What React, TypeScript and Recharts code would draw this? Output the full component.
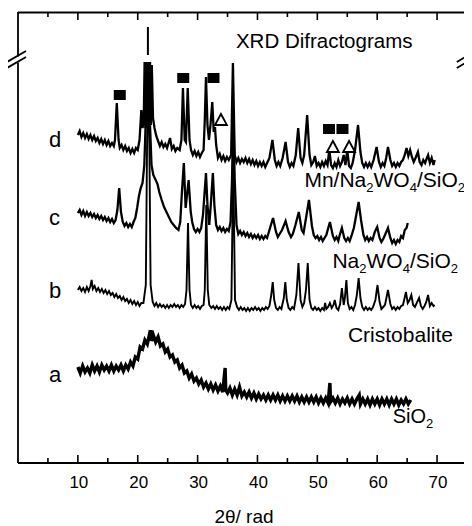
import { Line, LineChart, ReferenceDot, ReferenceLine, XAxis, YAxis } from 'recharts';

const FONT = '"Liberation Sans", Arial, Helvetica, sans-serif';

// 2θ tick positions (labels only on multiples of 10)
const X_TICKS = [5, 10, 15, 20, 25, 30, 35, 40, 45, 50, 55, 60, 65, 70];

// intensity values are in arbitrary units (0 = bottom of frame)
const TRACE_D: [number, number][] = [
    [10.0, 328], [10.3, 332], [10.6, 326], [10.9, 330], [11.2, 325], [11.5, 329], [11.8, 324], [12.1, 328], [12.4, 323],
    [12.7, 327], [13.0, 322], [13.3, 325], [13.6, 320], [13.9, 324], [14.2, 319], [14.5, 323], [14.8, 318], [15.1, 322],
    [15.4, 317], [15.7, 320], [16.0, 317], [16.2, 323], [16.5, 360], [16.8, 323], [17.0, 315], [17.3, 318], [17.6, 313],
    [17.9, 317], [18.2, 312], [18.5, 315], [18.8, 310], [19.1, 314], [19.4, 310], [19.7, 315], [20.0, 313], [20.3, 323],
    [20.6, 353], [20.8, 335], [21.0, 341], [21.15, 401], [21.3, 335], [21.45, 401], [21.6, 335], [21.75, 401], [21.9, 335],
    [22.05, 401], [22.2, 338], [22.35, 398], [22.55, 345], [22.8, 335], [23.1, 327], [23.4, 322], [23.7, 317], [24.0, 321],
    [24.3, 316], [24.6, 319], [24.9, 315], [25.4, 325], [25.7, 314], [26.0, 317], [26.3, 312], [26.6, 315], [27.0, 313],
    [27.3, 323], [27.55, 375], [27.85, 323], [28.05, 321], [28.35, 375], [28.65, 323], [28.9, 313], [29.2, 308], [29.5, 312],
    [29.8, 307], [30.1, 311], [30.4, 306], [30.7, 310], [31.0, 313], [31.2, 343], [31.4, 386], [31.65, 338], [31.9, 323],
    [32.15, 338], [32.45, 361], [32.7, 331], [32.9, 336], [33.1, 318], [33.4, 305], [33.7, 309], [34.0, 303], [34.3, 307],
    [34.6, 302], [34.9, 306], [35.2, 303], [35.6, 308], [35.9, 400], [36.2, 308], [36.5, 301], [36.8, 305], [37.1, 300],
    [37.4, 304], [37.7, 301], [38.0, 305], [38.3, 300], [38.6, 304], [38.9, 299], [39.2, 303], [39.5, 298], [39.8, 302],
    [40.1, 297], [40.4, 301], [40.7, 297], [41.0, 301], [41.3, 296], [41.6, 300], [42.0, 305], [42.5, 323], [42.9, 303],
    [43.2, 297], [43.5, 301], [43.8, 297], [44.2, 305], [44.7, 321], [45.1, 301], [45.4, 296], [45.7, 300], [46.0, 297],
    [46.4, 308], [46.8, 335], [47.2, 305], [47.5, 300], [47.8, 308], [48.3, 348], [48.7, 308], [49.0, 298], [49.3, 301],
    [49.6, 307], [49.9, 297], [50.2, 300], [50.5, 296], [50.8, 301], [51.1, 297], [51.4, 302], [51.7, 298], [52.0, 313],
    [52.3, 298], [52.6, 295], [52.9, 300], [53.2, 296], [53.5, 303], [53.8, 297], [54.1, 301], [54.4, 308], [54.7, 298],
    [55.0, 313], [55.3, 297], [55.6, 295], [55.9, 300], [56.3, 313], [56.8, 338], [57.2, 311], [57.5, 300], [57.8, 296],
    [58.1, 300], [58.4, 296], [58.7, 300], [59.0, 296], [59.4, 303], [59.9, 316], [60.3, 301], [60.6, 296], [60.9, 300],
    [61.2, 297], [61.5, 305], [61.8, 316], [62.2, 303], [62.5, 297], [62.8, 300], [63.1, 296], [63.4, 300], [63.7, 297],
    [64.0, 301], [64.3, 303], [64.6, 308], [64.9, 315], [65.2, 307], [65.5, 313], [65.8, 306], [66.1, 301], [66.4, 305],
    [66.8, 311], [67.1, 301], [67.4, 298], [67.7, 303], [68.0, 300], [68.3, 305], [68.5, 308], [68.8, 300], [69.1, 305],
    [69.4, 298], [69.6, 303],
];

const TRACE_C: [number, number][] = [
    [10.0, 250], [10.3, 253], [10.6, 248], [10.9, 252], [11.2, 247], [11.5, 251], [11.8, 247], [12.1, 250], [12.4, 246],
    [12.7, 249], [13.0, 245], [13.3, 248], [13.6, 244], [13.9, 247], [14.2, 243], [14.5, 246], [14.8, 242], [15.1, 245],
    [15.4, 241], [15.7, 244], [16.0, 240], [16.3, 243], [16.6, 253], [16.9, 275], [17.2, 251], [17.5, 241], [17.8, 237],
    [18.1, 240], [18.4, 236], [18.7, 239], [19.0, 236], [19.3, 241], [19.6, 245], [19.9, 255], [20.2, 267], [20.5, 275],
    [20.8, 280], [21.1, 298], [21.45, 363], [21.65, 401], [21.9, 363], [22.3, 298], [22.6, 288], [23.0, 283], [23.3, 279],
    [23.6, 271], [24.0, 263], [24.4, 256], [24.8, 251], [25.2, 246], [25.6, 241], [26.0, 238], [26.4, 235], [26.8, 233],
    [27.1, 241], [27.4, 273], [27.7, 300], [28.0, 255], [28.5, 283], [28.85, 251], [29.1, 241], [29.4, 234], [29.7, 231],
    [30.0, 234], [30.3, 231], [30.6, 235], [30.9, 248], [31.2, 273], [31.4, 290], [31.65, 258], [31.95, 238], [32.2, 258],
    [32.55, 290], [32.8, 258], [33.1, 238], [33.4, 233], [33.7, 236], [34.0, 232], [34.3, 235], [34.6, 231], [34.9, 234],
    [35.2, 232], [35.5, 241], [35.75, 283], [35.95, 353], [36.2, 283], [36.5, 238], [36.8, 229], [37.1, 232], [37.4, 228],
    [37.7, 231], [38.0, 227], [38.3, 230], [38.6, 226], [38.9, 229], [39.2, 225], [39.5, 228], [39.8, 225], [40.1, 228],
    [40.4, 224], [40.7, 227], [41.0, 224], [41.3, 227], [41.6, 225], [42.0, 233], [42.6, 245], [43.1, 231], [43.4, 226],
    [43.7, 229], [44.1, 233], [44.7, 242], [45.2, 231], [45.6, 226], [45.9, 229], [46.3, 237], [46.9, 251], [47.4, 233],
    [47.7, 230], [48.0, 241], [48.6, 263], [49.1, 237], [49.4, 228], [49.7, 225], [50.0, 227], [50.3, 223], [50.6, 226],
    [50.9, 222], [51.2, 225], [51.5, 228], [52.1, 241], [52.6, 227], [52.9, 223], [53.2, 226], [53.5, 222], [53.7, 227],
    [54.1, 235], [54.5, 225], [54.8, 222], [55.1, 225], [55.4, 222], [55.7, 227], [56.1, 235], [56.5, 248], [56.9, 261],
    [57.3, 243], [57.7, 228], [58.0, 223], [58.3, 226], [58.6, 222], [58.9, 225], [59.2, 223], [59.6, 231], [60.0, 236],
    [60.4, 225], [60.7, 221], [61.0, 224], [61.3, 228], [61.8, 235], [62.2, 225], [62.5, 220], [62.8, 223], [63.1, 219],
    [63.4, 223], [63.7, 221], [64.0, 227], [64.3, 225], [64.6, 233], [64.9, 235], [65.1, 240],
];

const TRACE_B: [number, number][] = [
    [10.0, 173], [10.3, 176], [10.6, 172], [10.9, 175], [11.2, 171], [11.5, 176], [11.8, 172], [12.1, 177], [12.3, 183],
    [12.5, 174], [12.8, 177], [13.1, 172], [13.4, 175], [13.7, 171], [14.0, 174], [14.3, 170], [14.6, 173], [14.9, 169],
    [15.2, 172], [15.5, 168], [15.8, 170], [16.1, 166], [16.4, 169], [16.7, 165], [17.0, 167], [17.3, 163], [17.6, 166],
    [17.9, 162], [18.2, 164], [18.5, 160], [18.8, 163], [19.1, 159], [19.4, 162], [19.7, 158], [20.0, 161], [20.3, 157],
    [20.6, 160], [20.95, 160], [21.35, 178], [21.55, 313], [21.75, 401], [21.95, 313], [22.15, 178], [22.5, 161], [22.8, 157],
    [23.1, 160], [23.4, 156], [23.7, 159], [24.0, 156], [24.3, 158], [24.6, 155], [24.9, 158], [25.2, 155], [25.5, 158],
    [25.8, 156], [26.1, 159], [26.4, 156], [26.7, 158], [27.0, 155], [27.3, 158], [27.6, 156], [27.9, 159], [28.15, 173],
    [28.4, 240], [28.65, 173], [28.9, 158], [29.2, 155], [29.5, 158], [29.8, 155], [30.1, 157], [30.4, 154], [30.7, 157],
    [31.0, 158], [31.2, 173], [31.45, 258], [31.7, 173], [31.95, 158], [32.3, 155], [32.6, 157], [32.9, 154], [33.2, 157],
    [33.5, 154], [33.8, 156], [34.1, 153], [34.4, 156], [34.7, 153], [35.0, 156], [35.3, 154], [35.65, 163], [35.95, 303],
    [36.25, 163], [36.6, 156], [36.9, 153], [37.2, 156], [37.5, 153], [37.8, 155], [38.1, 152], [38.4, 155], [38.7, 152],
    [39.0, 155], [39.3, 153], [39.6, 156], [39.9, 153], [40.2, 155], [40.5, 152], [40.8, 155], [41.1, 153], [41.4, 156],
    [41.7, 154], [42.0, 157], [42.3, 168], [42.55, 181], [42.8, 163], [43.1, 155], [43.4, 153], [43.7, 156], [44.0, 154],
    [44.4, 165], [44.65, 181], [44.9, 163], [45.2, 155], [45.5, 153], [45.8, 156], [46.1, 154], [46.5, 168], [46.85, 200],
    [47.2, 163], [47.5, 156], [47.8, 160], [48.1, 173], [48.4, 200], [48.7, 163], [49.0, 155], [49.3, 153], [49.6, 156],
    [49.9, 153], [50.2, 155], [50.5, 152], [50.8, 155], [51.1, 153], [51.3, 160], [51.5, 154], [51.8, 156], [52.1, 160],
    [52.4, 155], [52.7, 158], [52.9, 163], [53.2, 155], [53.5, 153], [53.8, 159], [54.1, 175], [54.4, 158], [54.6, 165],
    [54.85, 183], [55.1, 160], [55.4, 154], [55.7, 156], [56.0, 153], [56.3, 158], [56.6, 168], [56.9, 185], [57.2, 165],
    [57.5, 156], [57.8, 153], [58.1, 156], [58.4, 153], [58.7, 155], [59.0, 153], [59.3, 156], [59.7, 163], [60.05, 178],
    [60.4, 161], [60.7, 154], [61.0, 156], [61.3, 158], [61.8, 173], [62.2, 159], [62.5, 154], [62.8, 156], [63.1, 153],
    [63.4, 156], [63.7, 154], [64.0, 157], [64.3, 158], [64.5, 163], [64.8, 171], [65.1, 160], [65.4, 163], [65.7, 168],
    [66.0, 158], [66.3, 156], [66.6, 160], [67.0, 165], [67.3, 157], [67.6, 154], [67.9, 157], [68.2, 161], [68.5, 168],
    [68.8, 157], [69.1, 160], [69.4, 157], [69.6, 158],
];

const TRACE_A: [number, number][] = [
    [10.0, 96], [10.4, 90], [10.8, 97], [11.2, 91], [11.6, 95], [12.0, 90], [12.4, 98], [12.8, 92], [13.2, 97], [13.6, 91],
    [14.0, 98], [14.4, 93], [14.8, 97], [15.2, 92], [15.6, 98], [16.0, 92], [16.4, 97], [16.8, 93], [17.2, 98], [17.6, 92],
    [18.0, 98], [18.4, 94], [18.8, 101], [19.2, 97], [19.6, 106], [20.0, 104], [20.4, 116], [20.8, 114], [21.2, 123],
    [21.6, 119], [21.9, 127], [22.1, 123], [22.2, 133], [22.3, 122], [22.6, 128], [23.0, 121], [23.4, 126], [23.8, 117],
    [24.2, 119], [24.6, 111], [25.0, 114], [25.4, 106], [25.8, 108], [26.2, 101], [26.6, 103], [27.0, 95], [27.4, 98],
    [27.8, 90], [28.2, 92], [28.6, 85], [29.0, 89], [29.4, 82], [29.8, 85], [30.2, 79], [30.6, 83], [31.0, 76], [31.4, 80],
    [31.8, 74], [32.2, 79], [32.6, 73], [33.0, 78], [33.4, 72], [33.8, 77], [34.2, 71], [34.6, 95], [34.7, 73], [35.0, 70],
    [35.4, 75], [35.8, 68], [36.2, 74], [36.6, 68], [37.0, 76], [37.4, 67], [37.8, 71], [38.2, 66], [38.6, 71], [39.0, 65],
    [39.4, 70], [39.8, 64], [40.2, 69], [40.6, 64], [41.0, 68], [41.4, 63], [41.8, 68], [42.2, 63], [42.6, 68], [43.0, 63],
    [43.4, 68], [43.8, 62], [44.2, 67], [44.6, 62], [45.0, 67], [45.4, 62], [45.8, 67], [46.2, 62], [46.6, 67], [47.0, 61],
    [47.4, 66], [47.8, 61], [48.2, 66], [48.6, 61], [49.0, 66], [49.4, 61], [49.8, 66], [50.2, 60], [50.6, 65], [51.0, 60],
    [51.4, 65], [51.8, 60], [52.1, 80], [52.2, 61], [52.6, 65], [53.0, 60], [53.4, 65], [53.8, 59], [54.2, 64], [54.6, 60],
    [55.0, 65], [55.4, 59], [55.8, 64], [56.2, 59], [56.6, 64], [57.0, 68], [57.2, 59], [57.6, 64], [58.0, 59], [58.4, 64],
    [58.8, 58], [59.2, 64], [59.6, 59], [60.0, 64], [60.4, 58], [60.8, 64], [61.2, 59], [61.6, 64], [62.0, 58], [62.4, 64],
    [62.8, 59], [63.2, 64], [63.6, 58], [64.0, 63], [64.4, 59], [64.8, 64], [65.2, 59], [65.6, 63],
];

// phase markers: filled squares and open triangles above the peaks of trace d
const SQUARES: [number, number][] = [[17.0, 368], [27.6, 385], [32.65, 385], [51.95, 334], [54.2, 334]];
const TRIANGLES: [number, number][] = [[33.9, 343], [52.6, 316], [55.3, 316]];

const toPts = (arr: [number, number][]) => arr.map(([x, v]) => ({ x, v }));

const sub = (s: string) => (
    <tspan dy={5} fontSize={13}>
        {s}
    </tspan>
);
const up = (s: string) => <tspan dy={-5}>{s}</tspan>;

function textShape(content: React.ReactNode, anchor: 'start' | 'middle' | 'end', size: number) {
    return (p: any) => (
        <text x={p.cx} y={p.cy} textAnchor={anchor} fontSize={size} fontFamily={FONT} fill="#000">
            {content}
        </text>
    );
}

const squareShape = (p: any) => <rect x={p.cx - 6} y={p.cy - 5} width={12} height={10} fill="#000" />;
const triangleShape = (p: any) => (
    <polygon
        points={`${p.cx - 6},${p.cy + 5} ${p.cx + 6},${p.cy + 5} ${p.cx},${p.cy - 6}`}
        fill="#fff"
        stroke="#000"
        strokeWidth={1.8}
    />
);

function BottomTick({ x, y, payload }: any) {
    const major = payload.value % 10 === 0;
    return (
        <g>
            <line x1={x} x2={x} y1={y} y2={y - (major ? 8 : 5)} stroke="#000" strokeWidth={1.6} />
            {major && (
                <text x={x + 1} y={y + 25} textAnchor="middle" fontSize={17} fontFamily={FONT} fill="#000">
                    {payload.value}
                </text>
            )}
        </g>
    );
}

const FRAME = { stroke: '#000', strokeWidth: 1.8 };
const Y_TOP = 451;
const X_MAX = 75;

export default function App() {
    return (
        <LineChart width={464} height={518} margin={{ top: 4, right: 5, bottom: 0, left: 10 }}>
            <XAxis
                dataKey="x"
                type="number"
                domain={[0, X_MAX]}
                allowDataOverflow
                ticks={X_TICKS}
                interval={0}
                tickSize={0}
                tickMargin={0}
                tick={<BottomTick />}
                axisLine={FRAME}
                height={63}
            />
            <YAxis hide width={0} type="number" domain={[0, Y_TOP]} allowDataOverflow />

            <Line data={toPts(TRACE_A)} dataKey="v" type="linear" dot={false} stroke="#000" strokeWidth={3.4} isAnimationActive={false} />
            <Line data={toPts(TRACE_B)} dataKey="v" type="linear" dot={false} stroke="#000" strokeWidth={1.9} isAnimationActive={false} />
            <Line data={toPts(TRACE_C)} dataKey="v" type="linear" dot={false} stroke="#000" strokeWidth={2.3} isAnimationActive={false} />
            <Line data={toPts(TRACE_D)} dataKey="v" type="linear" dot={false} stroke="#000" strokeWidth={2.3} isAnimationActive={false} />

            {/* top frame and inward ticks, a hair below the domain top */}
            <ReferenceLine y={Y_TOP - 0.5} stroke="#000" strokeWidth={2.2} ifOverflow="visible" />
            {X_TICKS.map((t) => (
                <ReferenceLine
                    key={`tt${t}`}
                    segment={[{ x: t, y: Y_TOP - 0.5 }, { x: t, y: Y_TOP - (t % 10 === 0 ? 8 : 5) }]}
                    stroke="#000"
                    strokeWidth={1.6}
                    ifOverflow="visible"
                />
            ))}

            {/* side frame lines with break marks */}
            <ReferenceLine segment={[{ x: 0, y: 0 }, { x: 0, y: 400.6 }]} {...FRAME} ifOverflow="visible" />
            <ReferenceLine segment={[{ x: 0, y: 406.6 }, { x: 0, y: Y_TOP }]} {...FRAME} ifOverflow="visible" />
            <ReferenceLine segment={[{ x: X_MAX, y: 0 }, { x: X_MAX, y: 401.1 }]} {...FRAME} ifOverflow="visible" />
            <ReferenceLine segment={[{ x: X_MAX, y: 407.1 }, { x: X_MAX, y: Y_TOP }]} {...FRAME} ifOverflow="visible" />
            <ReferenceLine segment={[{ x: -1.84, y: 401 }, { x: 1.34, y: 412 }]} {...FRAME} ifOverflow="visible" />
            <ReferenceLine segment={[{ x: -1.84, y: 395 }, { x: 1.34, y: 406 }]} {...FRAME} ifOverflow="visible" />
            <ReferenceLine segment={[{ x: 73.3, y: 401 }, { x: 75.8, y: 410 }]} {...FRAME} ifOverflow="visible" />
            <ReferenceLine segment={[{ x: 73.3, y: 395 }, { x: 75.8, y: 404 }]} {...FRAME} ifOverflow="visible" />

            {/* cristobalite reflection mark */}
            <ReferenceLine segment={[{ x: 21.7, y: 408 }, { x: 21.7, y: 436 }]} stroke="#000" strokeWidth={2} ifOverflow="visible" />

            {SQUARES.map(([x, y], i) => (
                <ReferenceDot key={`s${i}`} x={x} y={y} r={0} shape={squareShape} ifOverflow="visible" />
            ))}
            {TRIANGLES.map(([x, y], i) => (
                <ReferenceDot key={`t${i}`} x={x} y={y} r={0} shape={triangleShape} ifOverflow="visible" />
            ))}

            <ReferenceDot x={36.4} y={415} r={0} ifOverflow="visible" shape={textShape('XRD Difractograms', 'start', 20.5)} />
            <ReferenceDot x={5.18} y={316} r={0} ifOverflow="visible" shape={textShape('d', 'start', 22)} />
            <ReferenceDot x={5.18} y={238} r={0} ifOverflow="visible" shape={textShape('c', 'start', 22)} />
            <ReferenceDot x={5.18} y={165} r={0} ifOverflow="visible" shape={textShape('b', 'start', 22)} />
            <ReferenceDot x={5.18} y={81} r={0} ifOverflow="visible" shape={textShape('a', 'start', 22)} />
            <ReferenceDot
                x={74.66}
                y={276}
                r={0}
                ifOverflow="visible"
                shape={textShape(
                    <>
                        <tspan>Mn/Na</tspan>
                        {sub('2')}
                        {up('WO')}
                        {sub('4')}
                        {up('/SiO')}
                        {sub('2')}
                    </>,
                    'end',
                    21
                )}
            />
            <ReferenceDot
                x={73.5}
                y={195}
                r={0}
                ifOverflow="visible"
                shape={textShape(
                    <>
                        <tspan>Na</tspan>
                        {sub('2')}
                        {up('WO')}
                        {sub('4')}
                        {up('/SiO')}
                        {sub('2')}
                    </>,
                    'end',
                    21
                )}
            />
            <ReferenceDot x={72.66} y={121} r={0} ifOverflow="visible" shape={textShape('Cristobalite', 'end', 21)} />
            <ReferenceDot
                x={62.6}
                y={40}
                r={0}
                ifOverflow="visible"
                shape={textShape(
                    <>
                        <tspan>SiO</tspan>
                        {sub('2')}
                    </>,
                    'start',
                    20
                )}
            />
            <ReferenceDot x={37.75} y={-60} r={0} ifOverflow="visible" shape={textShape('2θ/ rad', 'middle', 19)} />
        </LineChart>
    );
}
